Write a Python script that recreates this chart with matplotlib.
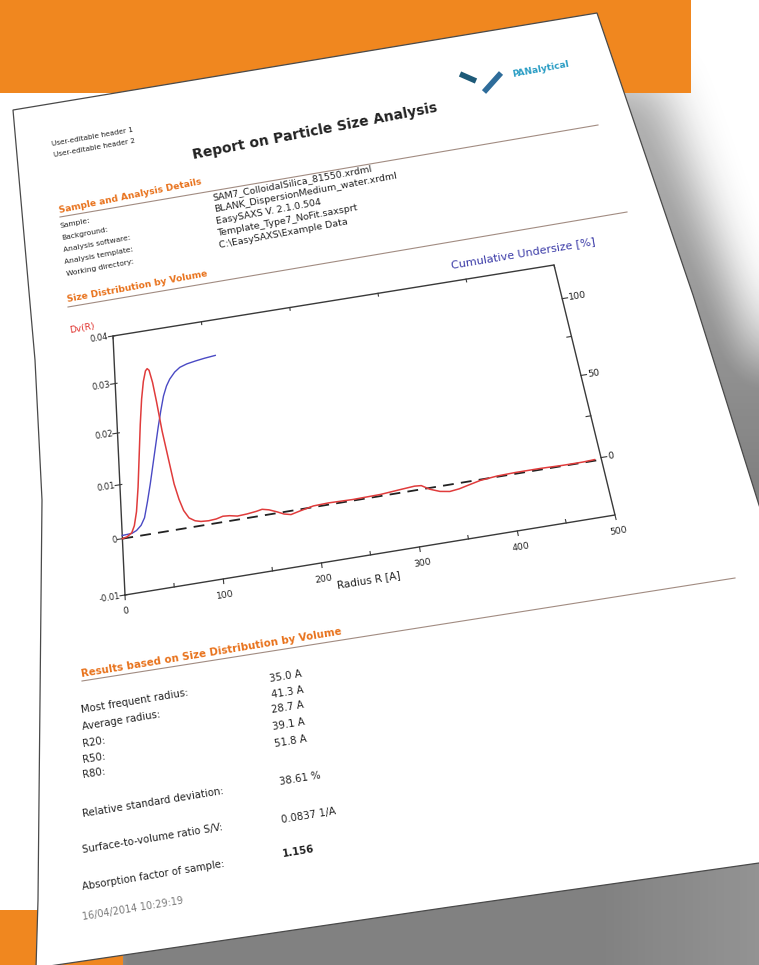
import numpy as np
import matplotlib
matplotlib.use('Agg')
import matplotlib.pyplot as plt
import matplotlib.transforms as mtransforms
from matplotlib.patches import Polygon, Rectangle
from matplotlib.path import Path

# ---- chart data ----
radius_dv = [0, 5, 10, 13, 16, 19, 22, 25, 28, 31, 34, 36, 38, 41, 44, 48, 51, 54, 57,
             61, 65, 70, 76, 82, 90, 98, 105, 112, 120, 130, 140, 146, 153, 161, 168,
             175, 185, 199, 215, 240, 269, 290, 305, 312, 320, 330, 340, 350, 360, 373,
             391, 410, 436, 460, 480, 493]
dv_values = [0.0, 0.0002, 0.0008, 0.002, 0.0045, 0.009, 0.015, 0.021, 0.026, 0.0295,
             0.0316, 0.032, 0.0316, 0.029, 0.025, 0.019, 0.0155, 0.012, 0.0085, 0.0055,
             0.0033, 0.0018, 0.0011, 0.0008, 0.0007, 0.0008, 0.0011, 0.001, 0.0007,
             0.0008, 0.001, 0.0012, 0.0009, 0.0003, -0.0003, -0.0006, -0.0002, 0.0003,
             0.0004, 0.0003, 0.0004, 0.0007, 0.0009, 0.0008, -0.0001, -0.0008, -0.0011,
             -0.0009, -0.0005, 0.0, 0.0003, 0.0004, 0.0004, 0.0003, 0.0003, 0.0004]

radius_cum = [0, 10, 15, 20, 24, 28, 32, 36, 40, 44, 48, 52, 56, 60, 66, 72, 80, 90, 100, 112]
cum_values = [0, 0.3, 1.5, 4, 8, 17, 27, 38, 49, 60, 70, 79, 85, 89, 93, 95.5, 97, 98, 98.8, 99.5]

baseline_r = [0, 495]
baseline_dv = [0.0, 0.0002]

x_ticks = [0, 100, 200, 300, 400, 500]
x_minor = [50, 150, 250, 350, 450]
dv_ticks = [-0.01, 0.0, 0.01, 0.02, 0.03, 0.04]
dv_labels = ['-0.01', '0', '0.01', '0.02', '0.03', '0.04']
cum_ticks = [0, 50, 100]
cum_minor = [25, 75]

detail_labels = ['Sample:', 'Background:', 'Analysis software:', 'Analysis template:',
                 'Working directory:']
detail_values = ['SAM7_ColloidalSilica_81550.xrdml', 'BLANK_DispersionMedium_water.xrdml',
                 'EasySAXS V. 2.1.0.504', 'Template_Type7_NoFit.saxsprt',
                 'C:\\EasySAXS\\Example Data']
result_labels = ['Most frequent radius:', 'Average radius:', 'R20:', 'R50:', 'R80:',
                 'Relative standard deviation:', 'Surface-to-volume ratio S/V:',
                 'Absorption factor of sample:']
result_values = ['35.0 A', '41.3 A', '28.7 A', '39.1 A', '51.8 A', '38.61 %',
                 '0.0837 1/A', '1.156']

ORANGE = '#f0871f'
HEAD = '#e8721c'
RULE = '#a28c82'
INK = '#222222'

W, H = 759, 965


def homography(src, dst):
    A, b = [], []
    for (x, y), (u, v) in zip(src, dst):
        A.append([x, y, 1, 0, 0, 0, -u * x, -u * y]); b.append(u)
        A.append([0, 0, 0, x, y, 1, -v * x, -v * y]); b.append(v)
    h = np.linalg.solve(np.array(A, float), np.array(b, float))
    return np.append(h, 1).reshape(3, 3)


class Projective(mtransforms.Transform):
    input_dims = 2
    output_dims = 2
    is_separable = False
    has_inverse = True

    def __init__(self, M):
        super().__init__()
        self.M = np.asarray(M, float)

    def transform_non_affine(self, values):
        v = np.atleast_2d(np.asarray(values, float))
        p = np.column_stack([v, np.ones(len(v))]) @ self.M.T
        return p[:, :2] / p[:, 2:3]

    def inverted(self):
        return Projective(np.linalg.inv(self.M))


def blur1d(a, r, axis):
    a = np.moveaxis(a, axis, 0)
    p = np.concatenate([np.repeat(a[:1], r, 0), a, np.repeat(a[-1:], r, 0)], 0)
    c = np.cumsum(p, 0)
    c = np.concatenate([np.zeros_like(c[:1]), c], 0)
    out = (c[2 * r + 1:] - c[:-2 * r - 1]) / (2 * r + 1)
    return np.moveaxis(out, 0, axis)


fig = plt.figure(figsize=(W / 100, H / 100), dpi=100)
ax = fig.add_axes([0, 0, 1, 1])

# ---- paper, shadow and orange blocks ----
page = np.array([(13, 110), (597, 13), (693, 295), (759, 505), (880, 850), (759, 863),
                 (450, 907), (36, 968), (38, 900), (42, 500), (35, 360)], float)

# shadow: page shifted right/down, bottom edge pushed well below the frame
shade = page + [60, 60]
shade[4:8, 1] += 250
yy, xx = np.mgrid[0:H, 0:W] + 0.5
mask = Path(shade).contains_points(
    np.column_stack([xx.ravel(), yy.ravel()])).reshape(H, W).astype(float)
for _ in range(3):
    mask = blur1d(mask, 22, 0)
    mask = blur1d(mask, 22, 1)
fade = 0.32 + 0.24 * np.clip((yy - 80) / 400, 0, 1) - 0.08 * np.clip((xx - 600) / 160, 0, 1) * (yy > 840)
shadow = np.zeros((H, W, 4))
shadow[..., :3] = 0.12
shadow[..., 3] = np.clip(mask * 1.1, 0, 1) * fade
ax.imshow(shadow, extent=(0, W, H, 0), aspect='auto', zorder=0, interpolation='bilinear')

ax.add_patch(Rectangle((0, 0), 691, 93, facecolor=ORANGE, edgecolor='none', zorder=1))
ax.add_patch(Rectangle((0, 910), 123, 60, facecolor=ORANGE, edgecolor='none', zorder=1))
ax.add_patch(Polygon(page, closed=True, facecolor='white', edgecolor='#4a4a4a',
                     linewidth=0.9, zorder=2))


def put(x, y, s, rot, size, color=INK, weight='normal', ha='left', va='baseline'):
    ax.text(x, y, s, rotation=rot, rotation_mode='anchor', fontsize=size, color=color,
            fontweight=weight, ha=ha, va=va, zorder=6)


# ---- header ----
ax.plot([460, 476], [74, 81], color='#1d5a78', lw=4, solid_capstyle='butt', zorder=5)
ax.plot([484, 501], [92, 73], color='#2e6c9a', lw=4, solid_capstyle='butt', zorder=5)
put(513, 77, 'PANalytical', 10.6, 6.5, color='#2a9dc4', weight='bold')

put(52, 146, 'User-editable header 1', 10, 5.2)
put(54, 157, 'User-editable header 2', 10, 5.2)
put(193, 159, 'Report on Particle Size Analysis', 11, 10, weight='bold')

put(60, 213, 'Sample and Analysis Details', 11.5, 6.6, color=HEAD, weight='bold')
ax.plot([60, 598], [217, 125], color=RULE, lw=0.8, zorder=5)
label_y = [228, 240, 252, 264, 276]
for i, (lab, val) in enumerate(zip(detail_labels, detail_values)):
    x0 = 60 + 1.7 * i
    put(x0, label_y[i], lab, 10.5, 5.4)
    put(x0 + 153, label_y[i] - 28, val, 10.5, 6.8)

put(68, 302, 'Size Distribution by Volume', 10.5, 6.6, color=HEAD, weight='bold')
ax.plot([68, 627], [307, 212], color=RULE, lw=0.8, zorder=5)

# ---- chart in perspective ----
box = [(125, 595), (615, 515), (554, 265), (113, 336)]
unit_to_px = Projective(homography([(0, 0), (1, 0), (1, 1), (0, 1)], box)) + ax.transData
dv_tr = mtransforms.Affine2D().scale(1 / 500, 20).translate(0, 0.2) + unit_to_px
cum_tr = mtransforms.Affine2D().scale(1 / 500, 1 / 156).translate(0, 33 / 156) + unit_to_px
ROT = 9.3

ax.plot([0, 500, 500, 0, 0], [-0.01, -0.01, 0.04, 0.04, -0.01], transform=dv_tr,
        color='#3a3a3a', lw=1.0, zorder=5)
for r in x_ticks:
    ax.plot([r, r], [-0.01, -0.0108], transform=dv_tr, color='#3a3a3a', lw=0.8, zorder=5)
    ax.plot([r, r], [0.04, 0.0394], transform=dv_tr, color='#3a3a3a', lw=0.8, zorder=5)
    ax.text(r, -0.0128, str(r), transform=dv_tr, rotation=ROT, rotation_mode='anchor',
            ha='center', va='center', fontsize=6.6, color=INK, zorder=6)
for r in x_minor:
    ax.plot([r, r], [-0.01, -0.0094], transform=dv_tr, color='#3a3a3a', lw=0.8, zorder=5)
for d, lab in zip(dv_ticks, dv_labels):
    ax.plot([-5, 2], [d, d], transform=dv_tr, color='#3a3a3a', lw=0.8, zorder=5)
    ax.text(-5, d, lab, transform=dv_tr, rotation=ROT, rotation_mode='anchor',
            ha='right', va='center', fontsize=6.0, color=INK, zorder=6)
for c in cum_ticks:
    ax.plot([500, 506], [c, c], transform=cum_tr, color='#3a3a3a', lw=0.8, zorder=5)
    ax.text(507, c, str(c), transform=cum_tr, rotation=ROT, rotation_mode='anchor',
            ha='left', va='center', fontsize=6.8, color=INK, zorder=6)
for c in cum_minor:
    ax.plot([500, 495], [c, c], transform=cum_tr, color='#3a3a3a', lw=0.8, zorder=5)

ax.plot(baseline_r, baseline_dv, transform=dv_tr, color='#222222', lw=1.3,
        dashes=(6, 4), zorder=6)
ax.plot(radius_cum, cum_values, transform=cum_tr, color='#4a4ac4', lw=1.0, zorder=7)
ax.plot(radius_dv, dv_values, transform=dv_tr, color='#e03c3c', lw=1.1, zorder=8)

ax.text(245, -0.0142, 'Radius R [A]', transform=dv_tr, rotation=ROT, rotation_mode='anchor',
        ha='center', va='center', fontsize=7.5, color=INK, zorder=6)
put(70, 333, 'Dv(R)', 10, 6.5, color='#e0302c')
put(452, 268, 'Cumulative Undersize [%]', 9.5, 8, color='#3c3ca8')

# ---- results ----
put(82, 677, 'Results based on Size Distribution by Volume', 9.3, 7.4, color=HEAD,
    weight='bold')
ax.plot([82, 735], [681, 578], color=RULE, lw=0.8, zorder=5)
res_label_pos = [(82, 713), (83, 730), (83, 747), (83, 763), (83, 778), (83, 817),
                 (83, 853), (83, 890)]
res_value_pos = [(270, 682), (272, 698), (272, 713), (273, 730), (275, 747), (280, 785),
                 (282, 823), (283, 857)]
for lab, (x, y) in zip(result_labels, res_label_pos):
    put(x, y, lab, 9.3, 7.3)
for k, (val, (x, y)) in enumerate(zip(result_values, res_value_pos)):
    put(x, y, val, 9.3, 7.3, weight='bold' if k == len(result_values) - 1 else 'normal')
put(83, 920, '16/04/2014 10:29:19', 9.3, 7.0, color='#7a7a7a')

ax.set_xlim(0, W)
ax.set_ylim(H, 0)
ax.axis('off')
fig.savefig('out.png', dpi=100, facecolor='white')
